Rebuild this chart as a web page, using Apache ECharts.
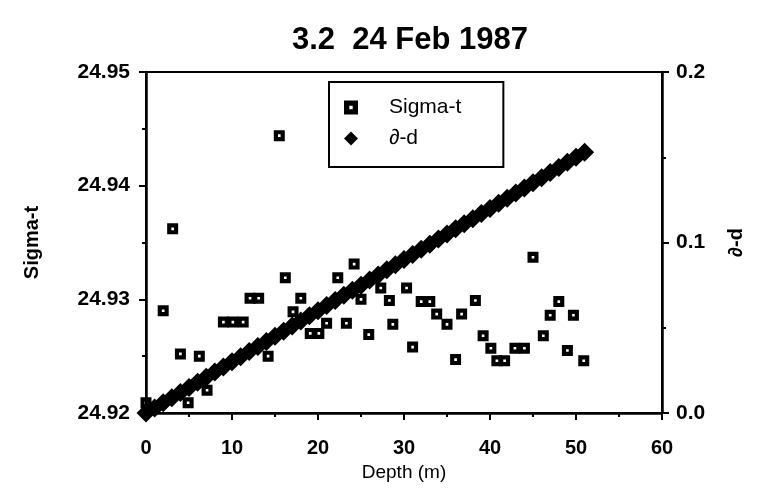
<!DOCTYPE html>
<html>
<head>
<meta charset="utf-8">
<script src="https://cdn.jsdelivr.net/npm/echarts@6/dist/echarts.min.js"></script>
<style>html,body{margin:0;padding:0;background:#fff}#c{width:760px;height:501px}</style>
</head>
<body>
<div id="c"></div>
<script>
// Sigma-t observations (depth m, sigma-t)
const sigmaDepth = [0, 2.0, 3.1, 4.0, 4.9, 6.2, 7.1, 9.0, 10.1, 11.3, 12.1, 13.1, 14.2, 15.5, 16.2, 17.1, 18.0, 19.1, 20.1, 21.0, 22.3, 23.3, 24.2, 25.0, 25.9, 27.3, 28.3, 28.7, 30.3, 31.0, 32.0, 33.0, 33.8, 35.0, 36.0, 36.7, 38.3, 39.2, 40.1, 40.8, 41.7, 42.9, 44.0, 45.0, 46.2, 47.0, 48.0, 49.0, 49.7, 50.9];
const sigmaValue = [24.9209, 24.9290, 24.9362, 24.9252, 24.9209, 24.9250, 24.9220, 24.9280, 24.9280, 24.9280, 24.9301, 24.9301, 24.9250, 24.9444, 24.9319, 24.9289, 24.9301, 24.9270, 24.9270, 24.9279, 24.9319, 24.9279, 24.9331, 24.9300, 24.9269, 24.9310, 24.9299, 24.9278, 24.9310, 24.9258, 24.9298, 24.9298, 24.9287, 24.9278, 24.9247, 24.9287, 24.9299, 24.9268, 24.9257, 24.9246, 24.9246, 24.9257, 24.9257, 24.9337, 24.9268, 24.9286, 24.9298, 24.9255, 24.9286, 24.9246];
// ∂-d series (depth m, value)
const ddDepth = [0,1,2,3,4,5,6,7,8,9,10,11,12,13,14,15,16,17,18,19,20,21,22,23,24,25,26,27,28,29,30,31,32,33,34,35,36,37,38,39,40,41,42,43,44,45,46,47,48,49,50,51];
const ddValue = [0.000,0.003,0.006,0.009,0.012,0.015,0.018,0.021,0.024,0.027,0.030,0.033,0.036,0.039,0.042,0.045,0.048,0.051,0.054,0.057,0.060,0.063,0.066,0.069,0.072,0.075,0.078,0.081,0.084,0.087,0.090,0.093,0.096,0.099,0.102,0.105,0.108,0.111,0.114,0.117,0.120,0.123,0.126,0.129,0.132,0.135,0.138,0.141,0.144,0.147,0.150,0.153];

const titleText = '3.2  24 Feb 1987';
const xName = 'Depth (m)';
const yLeftName = 'Sigma-t';
const yRightName = '∂-d';
const seriesNames = ['Sigma-t', '∂-d'];

const FONT = 'Liberation Sans';
const squareSym = 'path://M0,0L10,0L10,10L0,10Z M3.8,3.8L3.8,6.2L6.2,6.2L6.2,3.8Z';

const chart = echarts.init(document.getElementById('c'), null, {renderer: 'canvas'});
chart.setOption({
  animation: false,
  backgroundColor: '#ffffff',
  title: {
    text: titleText, left: 405, top: 20, textAlign: 'center',
    textStyle: {fontFamily: FONT, fontWeight: 'bold', fontSize: 31, color: '#000'}
  },
  legend: {
    data: seriesNames.map(n => ({name: n})),
    orient: 'vertical', left: 329, top: 82,
    itemWidth: 14, itemHeight: 14, itemGap: 10,
    padding: [15, 42, 18, 15],
    borderColor: '#000', borderWidth: 2,
    textStyle: {fontFamily: FONT, fontSize: 21, color: '#000', padding: [0, 0, 0, 26]}
  },
  grid: {left: 146, right: 98, top: 72, bottom: 88, show: true, borderColor: '#000', borderWidth: 2, backgroundColor: 'transparent'},
  xAxis: {
    type: 'value', min: 0, max: 60, interval: 10,
    name: xName, nameLocation: 'middle', nameGap: 47,
    nameTextStyle: {fontFamily: FONT, fontSize: 19, color: '#000'},
    axisLine: {lineStyle: {color: '#000', width: 2.5}},
    axisTick: {length: 7, lineStyle: {color: '#000', width: 2}},
    minorTick: {show: true, splitNumber: 2, length: 4, lineStyle: {color: '#000', width: 2}},
    splitLine: {show: false},
    axisLabel: {margin: 25, fontFamily: FONT, fontWeight: 'bold', fontSize: 20, color: '#000'}
  },
  yAxis: [{
    type: 'value', min: 24.92, max: 24.95, interval: 0.01, position: 'left',
    name: yLeftName, nameLocation: 'middle', nameGap: 104, nameRotate: 90,
    nameTextStyle: {fontFamily: FONT, fontWeight: 'bold', fontSize: 20, color: '#000'},
    axisLine: {show: true, lineStyle: {color: '#000', width: 2.5}},
    axisTick: {show: true, length: 7, lineStyle: {color: '#000', width: 2}},
    minorTick: {show: true, splitNumber: 2, length: 4, lineStyle: {color: '#000', width: 2}},
    splitLine: {show: false},
    axisLabel: {margin: 16, fontFamily: FONT, fontWeight: 'bold', fontSize: 21, color: '#000', formatter: v => v.toFixed(2)}
  }, {
    type: 'value', min: 0, max: 0.2, interval: 0.1, position: 'right',
    name: yRightName, nameLocation: 'middle', nameGap: 64, nameRotate: 90,
    nameTextStyle: {fontFamily: FONT, fontWeight: 'bold', fontSize: 20, color: '#000'},
    axisLine: {show: true, lineStyle: {color: '#000', width: 2.5}},
    axisTick: {show: true, length: 7, lineStyle: {color: '#000', width: 2}},
    minorTick: {show: true, splitNumber: 2, length: 4, lineStyle: {color: '#000', width: 2}},
    splitLine: {show: false},
    axisLabel: {margin: 14, fontFamily: FONT, fontWeight: 'bold', fontSize: 21, color: '#000', formatter: v => v.toFixed(1)}
  }],
  series: [{
    name: seriesNames[1], type: 'scatter', yAxisIndex: 1,
    symbol: 'diamond', symbolSize: 19, z: 2,
    itemStyle: {color: '#000', opacity: 1},
    data: ddDepth.map((d, i) => [d, ddValue[i]])
  }, {
    name: seriesNames[0], type: 'scatter', yAxisIndex: 0,
    symbol: squareSym, symbolSize: 11, z: 3,
    itemStyle: {color: '#000', opacity: 1},
    data: sigmaDepth.map((d, i) => [d, sigmaValue[i]])
  }]
});
</script>
</body>
</html>
